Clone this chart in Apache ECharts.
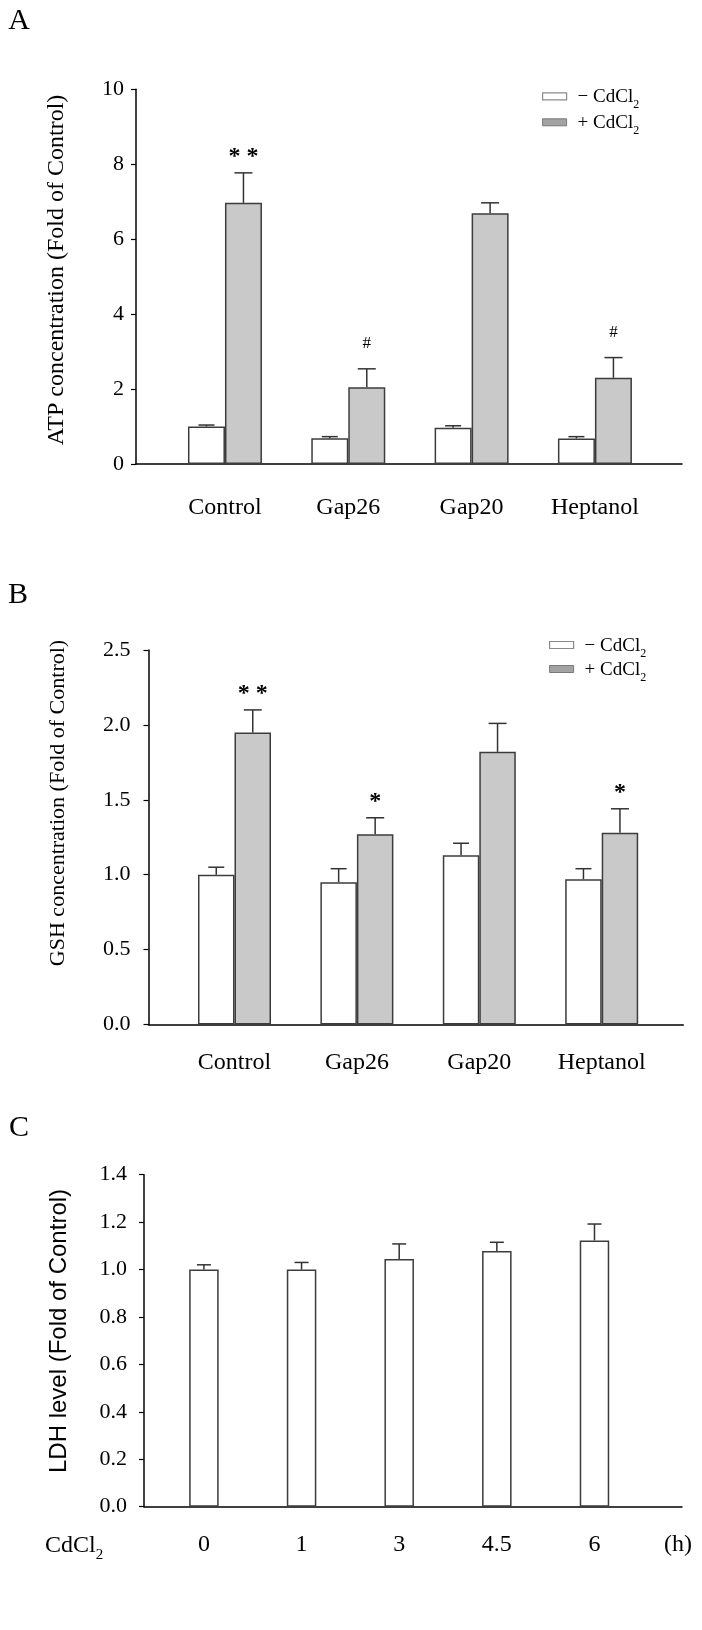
<!DOCTYPE html>
<html>
<head>
<meta charset="utf-8">
<script src="https://cdn.jsdelivr.net/npm/echarts@6/dist/echarts.min.js"></script>
<style>
html,body{margin:0;padding:0;background:#fff;}
#chart{width:702px;height:1630px;}
</style>
</head>
<body>
<div id="chart"></div>
<script>
// ---------- data ----------
const groupCategories = ['Control', 'Gap26', 'Gap20', 'Heptanol'];
const seriesNames = ['\u2212 CdCl2', '+ CdCl2'];

const atpMinus    = [1.00, 0.69, 0.97, 0.68];
const atpMinusErr = [0.04, 0.04, 0.05, 0.05];
const atpPlus     = [6.97, 2.05, 6.69, 2.30];
const atpPlusErr  = [0.80, 0.49, 0.28, 0.54];
const atpMarks    = ['* *', '#', '', '#'];
const atpTicks    = { min: 0, max: 10, interval: 2 };

const gshMinus    = [1.00, 0.95, 1.13, 0.97];
const gshMinusErr = [0.05, 0.09, 0.08, 0.07];
const gshPlus     = [1.95, 1.27, 1.82, 1.28];
const gshPlusErr  = [0.15, 0.11, 0.19, 0.16];
const gshMarks    = ['* *', '*', '', '*'];
const gshTicks    = { min: 0, max: 2.5, interval: 0.5 };

const ldhTimes    = ['0', '1', '3', '4.5', '6'];
const ldhValues   = [1.00, 1.00, 1.045, 1.078, 1.123];
const ldhErr      = [0.02, 0.03, 0.063, 0.037, 0.069];
const ldhTicks    = { min: 0, max: 1.4, interval: 0.2 };

// ---------- styles ----------
const SERIF = "'Liberation Serif','Times New Roman',serif";
const SANS = "'Liberation Sans',Arial,sans-serif";
const AXIS_COLOR = '#000';
const BORDER = '#3c3c3c';
const WHITE = '#ffffff';
const GRAY = '#c9c9c9';

const chart = echarts.init(document.getElementById('chart'), null, { renderer: 'canvas' });

const grids = [];
const xAxes = [];
const yAxes = [];
const series = [];

function axesGrid(box, ticks, labelMargin, fmt) {
  const g = grids.length;
  grids.push({ left: box.left, top: box.top, width: box.width, height: box.height, containLabel: false });
  xAxes.push({
    gridIndex: g, type: 'value', min: 0, max: 1,
    axisLine: { show: true, onZero: false, lineStyle: { color: AXIS_COLOR, width: 1.5 } },
    axisTick: { show: false }, axisLabel: { show: false }, splitLine: { show: false }
  });
  yAxes.push({
    gridIndex: g, type: 'value', min: ticks.min, max: ticks.max, interval: ticks.interval,
    axisLine: { show: true, lineStyle: { color: AXIS_COLOR, width: 1.5 } },
    axisTick: { show: true, inside: false, length: 5, lineStyle: { color: AXIS_COLOR, width: 1.2 } },
    axisLabel: { fontFamily: SERIF, fontSize: 22, color: '#000', margin: labelMargin, formatter: fmt },
    splitLine: { show: false }
  });
  return g;
}

function barsGrid(box, cats, ticks, labelMargin) {
  const g = grids.length;
  grids.push({ left: box.left, top: box.top, width: box.width, height: box.height, containLabel: false });
  xAxes.push({
    gridIndex: g, type: 'category', data: cats,
    axisLine: { show: false }, axisTick: { show: false }, splitLine: { show: false },
    axisLabel: { fontFamily: SERIF, fontSize: 24, color: '#000', margin: labelMargin, interval: 0 }
  });
  yAxes.push({ gridIndex: g, type: 'value', min: ticks.min, max: ticks.max, interval: ticks.interval, show: false });
  return g;
}

function addBars(g, name, vals, errs, color, barWidth, offset, cap) {
  series.push({
    type: 'bar', name: name, xAxisIndex: g, yAxisIndex: g, data: vals,
    barWidth: barWidth, barGap: '0%', z: 2, animation: false, silent: true,
    itemStyle: { color: color, borderColor: BORDER, borderWidth: 1.5 }
  });
  series.push({
    type: 'custom', xAxisIndex: g, yAxisIndex: g, z: 3, silent: true, animation: false,
    data: vals.map((v, i) => [i, v, errs[i]]),
    renderItem: function (params, api) {
      const i = api.value(0), v = api.value(1), e = api.value(2);
      const b = api.coord([i, v]);
      const t = api.coord([i, v + e]);
      const x = b[0] + offset;
      return {
        type: 'group', children: [
          { type: 'line', shape: { x1: x, y1: b[1], x2: x, y2: t[1] }, style: { stroke: '#333', lineWidth: 1.5 } },
          { type: 'line', shape: { x1: x - cap / 2, y1: t[1], x2: x + cap / 2, y2: t[1] }, style: { stroke: '#333', lineWidth: 1.5 } }
        ]
      };
    }
  });
}

function addMarks(g, vals, errs, marks, offset) {
  series.push({
    type: 'custom', xAxisIndex: g, yAxisIndex: g, z: 4, silent: true, animation: false,
    data: vals.map((v, i) => [i, v + errs[i]]),
    renderItem: function (params, api) {
      const txt = marks[params.dataIndex];
      if (!txt) return null;
      const p = api.coord([api.value(0), api.value(1)]);
      const isStar = txt.indexOf('*') >= 0;
      return {
        type: 'text', x: p[0] + offset, y: p[1] - (isStar ? 16 : 25),
        style: {
          text: txt, fill: '#000', font: (isStar ? 'bold 24px ' : '17px ') + SERIF,
          align: 'center', verticalAlign: 'middle', textAlign: 'center', textVerticalAlign: 'middle'
        }
      };
    }
  });
}

// ---------- Panel A ----------
const aAxes = axesGrid({ left: 136, top: 89.3, width: 546, height: 374.7 }, atpTicks, 12, v => String(v));
const aBars = barsGrid({ left: 163.3, top: 89.3, width: 493.3, height: 374.7 }, groupCategories, atpTicks, 32);
addBars(aBars, seriesNames[0], atpMinus, atpMinusErr, WHITE, 37, -18.5, 16);
addBars(aBars, seriesNames[1], atpPlus, atpPlusErr, GRAY, 37, 18.5, 18);
addMarks(aBars, atpPlus, atpPlusErr, atpMarks, 18.5);

// ---------- Panel B ----------
const bAxes = axesGrid({ left: 148.5, top: 650, width: 534.8, height: 374.5 }, gshTicks, 18, v => v.toFixed(1));
const bBars = barsGrid({ left: 173.3, top: 650, width: 489.6, height: 374.5 }, groupCategories, gshTicks, 26);
addBars(bBars, seriesNames[0], gshMinus, gshMinusErr, WHITE, 36.5, -18.25, 16);
addBars(bBars, seriesNames[1], gshPlus, gshPlusErr, GRAY, 36.5, 18.25, 18);
addMarks(bBars, gshPlus, gshPlusErr, gshMarks, 18.25);

// ---------- Panel C ----------
const cAxes = axesGrid({ left: 144, top: 1174.7, width: 538, height: 332 }, ldhTicks, 17, v => v.toFixed(1));
const cBars = barsGrid({ left: 155.1, top: 1174.7, width: 488.2, height: 332 }, ldhTimes, ldhTicks, 26);
addBars(cBars, 'LDH', ldhValues, ldhErr, WHITE, 29.5, 0, 14);

// ---------- legends ----------
function legendAt(left, top, gap) {
  return {
    left: left, top: top, orient: 'vertical', icon: 'rect', itemWidth: 24, itemHeight: 7, itemGap: gap,
    selectedMode: false,
    data: [
      { name: seriesNames[0], itemStyle: { color: '#fff', borderColor: '#8a8a8a', borderWidth: 1.2 } },
      { name: seriesNames[1], itemStyle: { color: '#a3a3a3', borderColor: '#7a7a7a', borderWidth: 1 } }
    ],
    formatter: function (n) { return '{a|' + n.replace('CdCl2', 'CdCl') + '}{s|2}'; },
    textStyle: {
      color: '#000',
      rich: {
        a: { fontFamily: SERIF, fontSize: 19, lineHeight: 21, color: '#000', verticalAlign: 'bottom', padding: [0, 0, 0, 6] },
        s: { fontFamily: SERIF, fontSize: 12, lineHeight: 21, color: '#000', verticalAlign: 'bottom', padding: [0, 0, -4, 0] }
      }
    }
  };
}

// ---------- text decorations ----------
function textEl(x, y, text, font, rotate) {
  return {
    type: 'text', x: x, y: y, rotation: rotate ? Math.PI / 2 : 0, silent: true,
    style: { text: text, font: font, fill: '#000', align: 'center', verticalAlign: 'middle', textAlign: 'center', textVerticalAlign: 'middle' }
  };
}

const graphics = [
  textEl(19, 21, 'A', '30px ' + SERIF),
  textEl(18, 595, 'B', '30px ' + SERIF),
  textEl(19, 1128, 'C', '30px ' + SERIF),
  textEl(57, 270, 'ATP concentration (Fold of Control)', '24px ' + SERIF, true),
  textEl(58, 803, 'GSH concentration (Fold of Control)', '22px ' + SERIF, true),
  textEl(59, 1331, 'LDH level (Fold of Control)', '24px ' + SANS, true),
  {
    type: 'text', x: 45, y: 1545, silent: true,
    style: {
      text: '{a|CdCl}{s|2}', fill: '#000', verticalAlign: 'middle', textVerticalAlign: 'middle',
      rich: {
        a: { fontFamily: SERIF, fontSize: 24, lineHeight: 26, verticalAlign: 'bottom' },
        s: { fontFamily: SERIF, fontSize: 15, lineHeight: 26, verticalAlign: 'bottom', padding: [0, 0, -5, 0] }
      }
    }
  },
  textEl(678, 1545, '(h)', '24px ' + SERIF)
];

chart.setOption({
  animation: false,
  backgroundColor: '#fff',
  grid: grids,
  xAxis: xAxes,
  yAxis: yAxes,
  legend: [legendAt(537, 82.8, 3), legendAt(544, 631.5, 1)],
  series: series,
  graphic: graphics
});
</script>
</body>
</html>
